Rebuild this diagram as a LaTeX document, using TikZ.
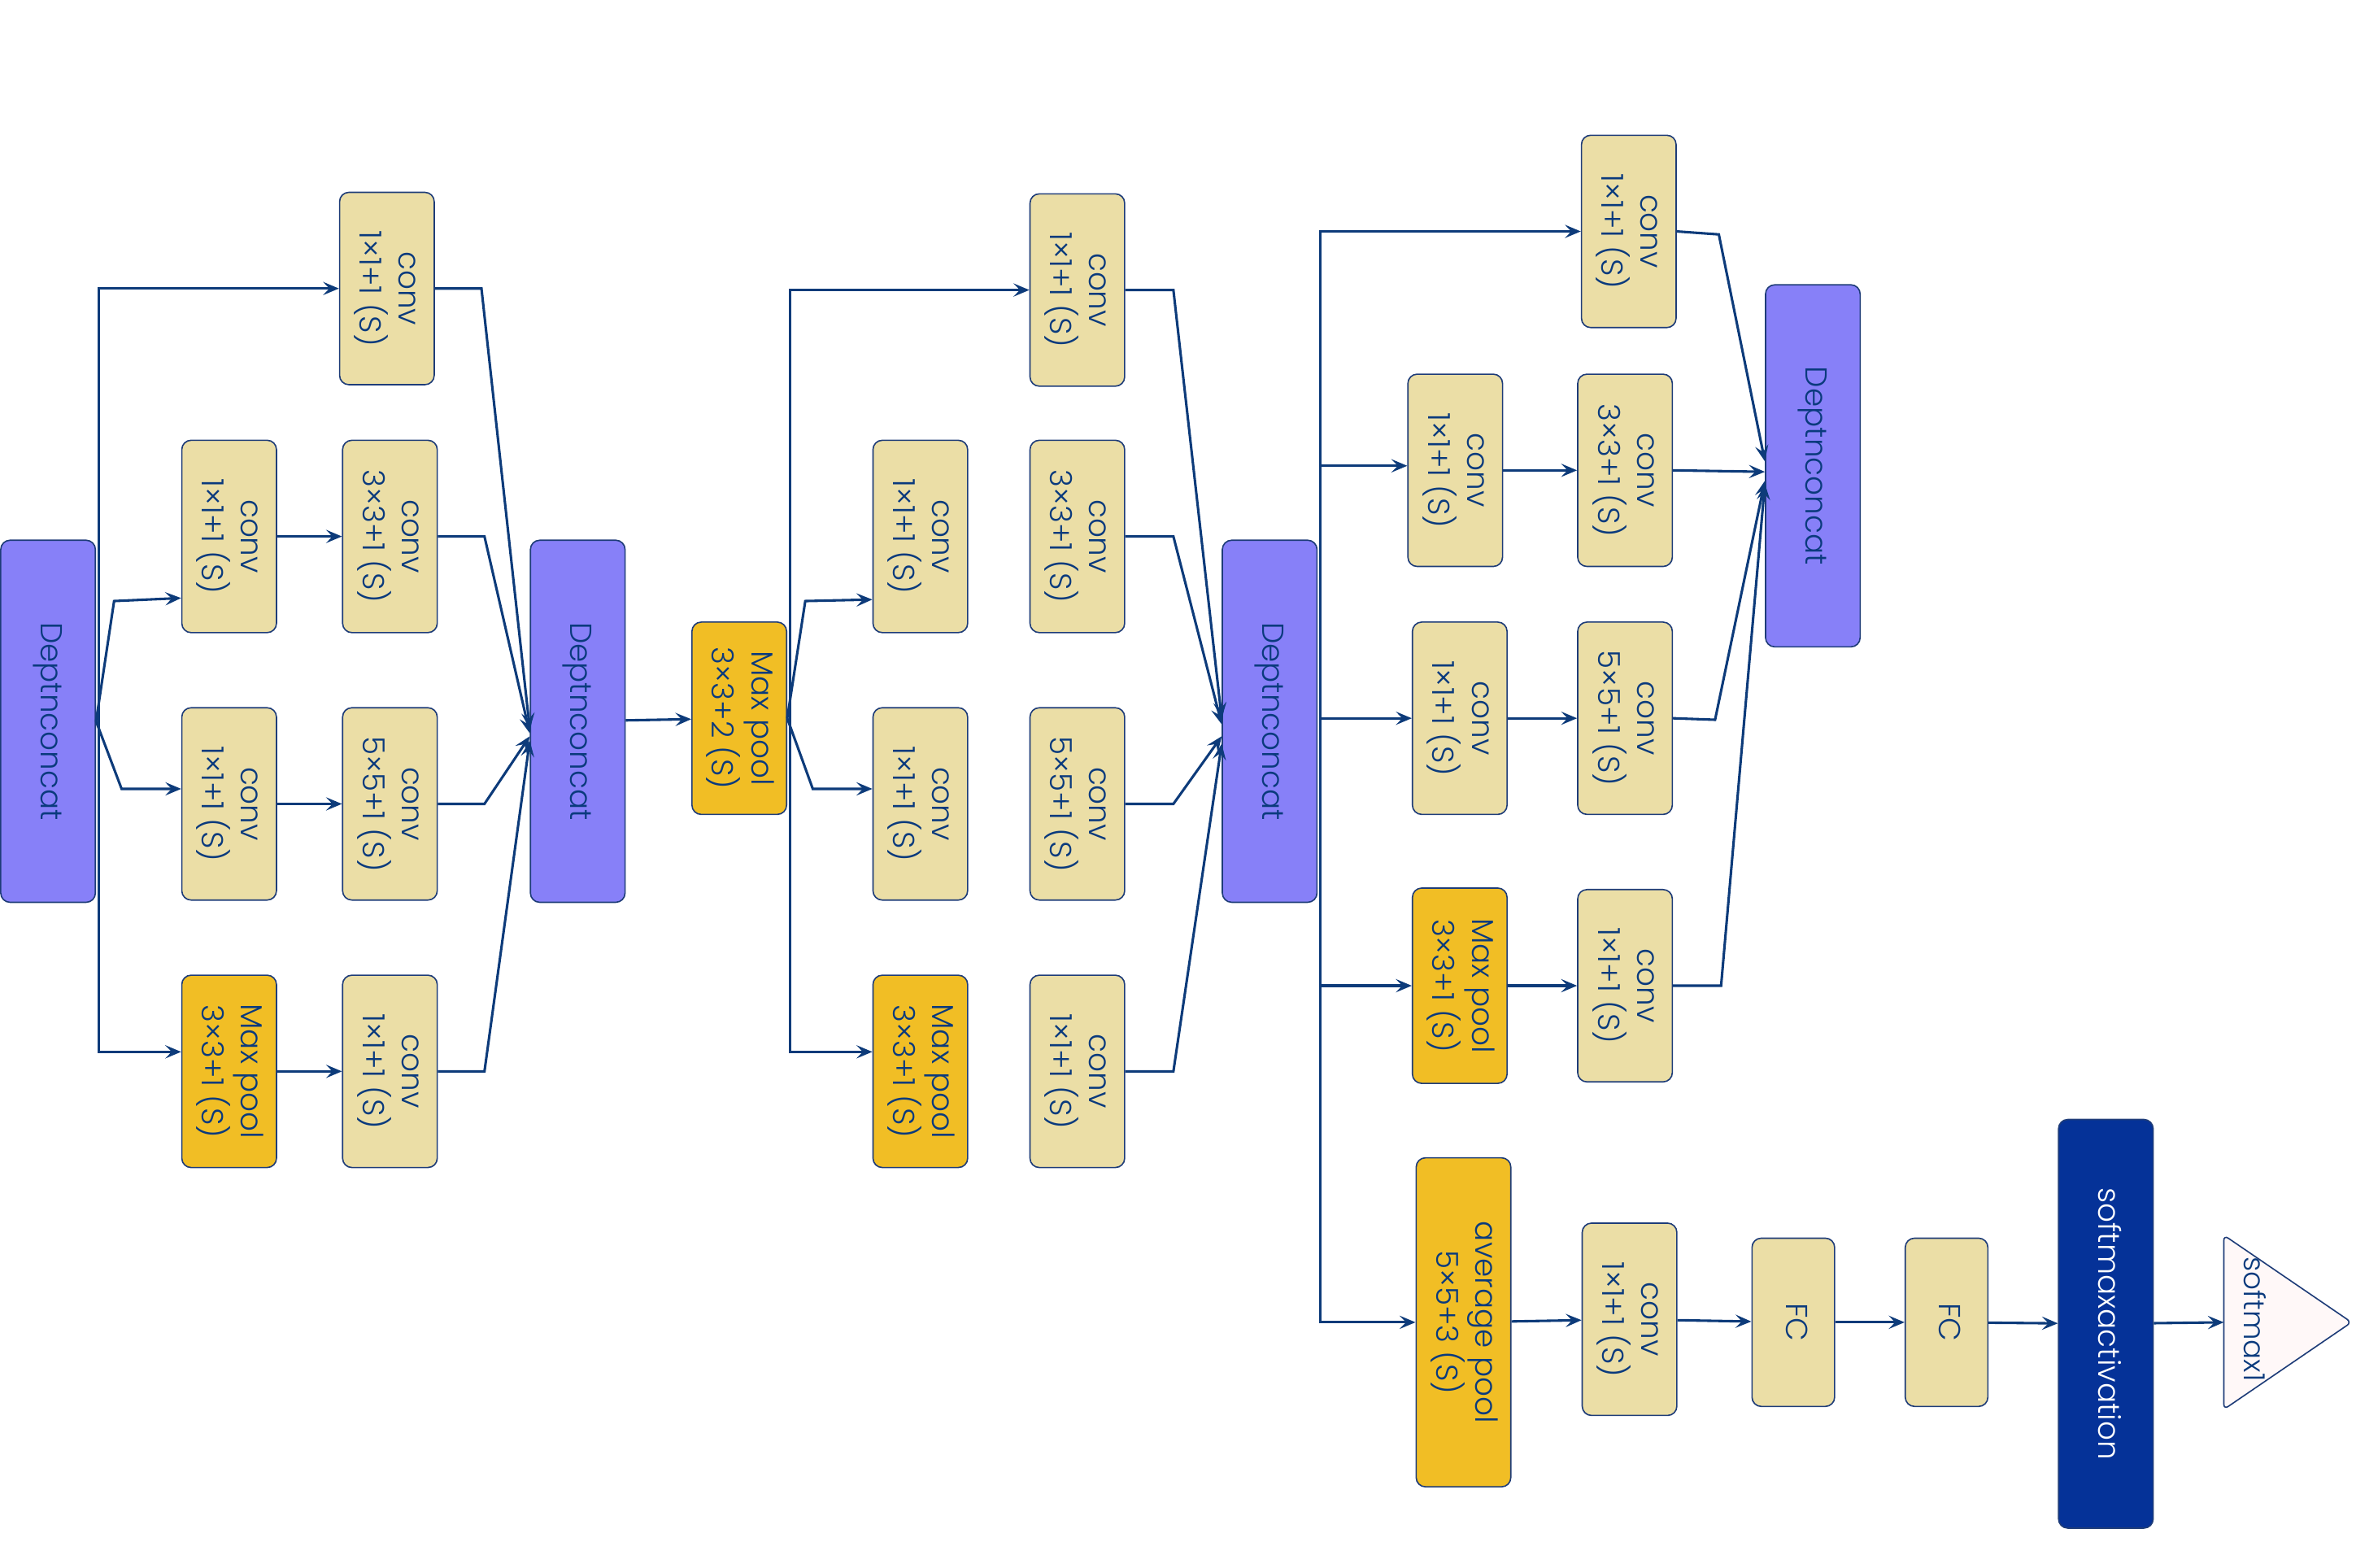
\documentclass[tikz,border=0pt]{standalone}
\usepackage{fontspec}
\setmainfont{Poppins}[UprightFont=* Light]
\usepackage{graphicx}
\usetikzlibrary{arrows.meta,calc}

\definecolor{linecol}{RGB}{13,59,122}
\definecolor{txtcol}{RGB}{10,58,125}
\definecolor{boxline}{RGB}{30,60,120}
\definecolor{convfill}{RGB}{235,222,166}
\definecolor{poolfill}{RGB}{241,190,37}
\definecolor{catfill}{RGB}{135,128,248}
\definecolor{actfill}{RGB}{5,50,152}
\definecolor{trifill}{RGB}{255,248,248}

\newcommand{\vlab}[1]{\rotatebox{-90}{\begin{tabular}{@{}c@{}}#1\end{tabular}}}

\tikzset{
	box/.style={draw=boxline, line width=0.5pt, rounded corners=3.5pt, inner sep=0pt,
		minimum width=1.26cm, minimum height=2.56cm, text=txtcol,
		font=\fontsize{11.5}{13.8}\selectfont},
	convbox/.style={box, fill=convfill},
	poolbox/.style={box, fill=poolfill},
	catbox/.style={box, fill=catfill, minimum height=4.82cm},
	fcbox/.style={box, fill=convfill, minimum width=1.1cm, minimum height=2.24cm},
	actbox/.style={box, fill=actfill, text=white, minimum height=5.44cm},
	arr/.style={draw=linecol, line width=0.95pt, -{Stealth[length=6pt,width=5pt,inset=2.4pt]}},
	tri/.style={draw=boxline, line width=0.5pt, fill=trifill, rounded corners=2pt},
}

\begin{document}
\begin{tikzpicture}[x=0.02cm, y=-0.02cm]
	\useasboundingbox (0,0) rectangle (1568,1043.5);

	% first block
	\node[catbox] (cat1) at (32,480) {\vlab{Deptnconcat}};
	\node[convbox] (l1a) at (257.5,192) {\vlab{conv\\1×1+1 (S)}};
	\node[convbox] (l2a) at (152.5,357) {\vlab{conv\\1×1+1 (S)}};
	\node[convbox] (l2b) at (259.5,357) {\vlab{conv\\3×3+1 (S)}};
	\node[convbox] (l3a) at (152.5,535) {\vlab{conv\\1×1+1 (S)}};
	\node[convbox] (l3b) at (259.5,535) {\vlab{conv\\5×5+1 (S)}};
	\node[poolbox] (l4a) at (152.5,713) {\vlab{Max pool\\3×3+1 (S)}};
	\node[convbox] (l4b) at (259.5,713) {\vlab{conv\\1×1+1 (S)}};
	\node[catbox] (cat2) at (384.5,480) {\vlab{Deptnconcat}};

	\coordinate (t1) at ($(cat1.east)+(2,0)$);
	\draw[arr] (t1) |- (l1a.west);
	\draw[arr] (t1) |- ($(l4a.west)+(0,-13)$);
	\draw[arr] (cat1.east) -- ++(12,-80) -- ($(l2a.west)+(0,41)$);
	\draw[arr] (cat1.east) -- ++(17,45) -- ($(l3a.west)+(0,-10)$);
	\draw[arr] (l2a) -- (l2b);
	\draw[arr] (l3a) -- (l3b);
	\draw[arr] (l4a) -- (l4b);
	\draw[arr] (l1a.east) -- ++(31,0) -- ($(cat2.west)+(0,5)$);
	\draw[arr] (l2b.east) -- ++(31,0) -- ($(cat2.west)+(0,8)$);
	\draw[arr] (l3b.east) -- ++(31,0) -- ($(cat2.west)+(0,10)$);
	\draw[arr] (l4b.east) -- ++(31,0) -- ($(cat2.west)+(0,13)$);

	% second block
	\node[poolbox] (mp) at (492,478) {\vlab{Max pool\\3×3+2 (S)}};
	\node[convbox] (m1a) at (717,193) {\vlab{conv\\1×1+1 (S)}};
	\node[convbox] (m2a) at (612.5,357) {\vlab{conv\\1×1+1 (S)}};
	\node[convbox] (m2b) at (717,357) {\vlab{conv\\3×3+1 (S)}};
	\node[convbox] (m3a) at (612.5,535) {\vlab{conv\\1×1+1 (S)}};
	\node[convbox] (m3b) at (717,535) {\vlab{conv\\5×5+1 (S)}};
	\node[poolbox] (m4a) at (612.5,713) {\vlab{Max pool\\3×3+1 (S)}};
	\node[convbox] (m4b) at (717,713) {\vlab{conv\\1×1+1 (S)}};
	\node[catbox] (cat3) at (845,480) {\vlab{Deptnconcat}};

	\draw[arr] (cat2) -- (mp);
	\coordinate (t2) at ($(mp.east)+(2,0)$);
	\draw[arr] (t2) |- (m1a.west);
	\draw[arr] (t2) |- ($(m4a.west)+(0,-13)$);
	\draw[arr] (mp.east) -- ++(12,-78) -- ($(m2a.west)+(0,42)$);
	\draw[arr] (mp.east) -- ++(17,47) -- ($(m3a.west)+(0,-10)$);
	\draw[arr] (m1a.east) -- ++(32,0) -- ($(cat3.west)+(0,-2)$);
	\draw[arr] (m2b.east) -- ++(32,0) -- ($(cat3.west)+(0,2)$);
	\draw[arr] (m3b.east) -- ++(32,0) -- ($(cat3.west)+(0,10)$);
	\draw[arr] (m4b.east) -- ++(32,0) -- ($(cat3.west)+(0,15)$);

	% third block
	\node[convbox] (r1a) at (1084,154) {\vlab{conv\\1×1+1 (S)}};
	\node[convbox] (r2a) at (968.5,313) {\vlab{conv\\1×1+1 (S)}};
	\node[convbox] (r2b) at (1081.5,313) {\vlab{conv\\3×3+1 (S)}};
	\node[convbox] (r3a) at (971.5,478) {\vlab{conv\\1×1+1 (S)}};
	\node[convbox] (r3b) at (1081.5,478) {\vlab{conv\\5×5+1 (S)}};
	\node[poolbox, minimum height=2.6cm] (r4a) at (971.5,656) {\vlab{Max pool\\3×3+1 (S)}};
	\node[convbox] (r4b) at (1081.5,656) {\vlab{conv\\1×1+1 (S)}};
	\node[catbox] (cat4) at (1206.5,310) {\vlab{Deptnconcat}};

	\coordinate (t3) at ($(cat3.east)+(2,0)$);
	\draw[arr] (t3) |- (r1a.west);
	\draw[arr] (t3) |- ($(r2a.west)+(0,-3)$);
	\draw[arr] (t3) |- (r3a.west);
	\draw[arr] (t3) |- (r4a.west);
	\draw[arr] (r2a) -- (r2b);
	\draw[arr] (r3a) -- (r3b);
	\draw[arr] (r4a) -- (r4b);
	\draw[arr] (r1a.east) -- ++(28,2) -- ($(cat4.west)+(0,-3)$);
	\draw[arr] (r2b.east) -- ($(cat4.west)+(0,4)$);
	\draw[arr] (r3b.east) -- ++(28,1) -- ($(cat4.west)+(0,10)$);
	\draw[arr] (r4b.east) -- ++(32,0) -- ($(cat4.west)+(0,12)$);

	% side branch
	\node[poolbox, minimum height=4.38cm] (r5a) at (974,880) {\vlab{average pool\\5×5+3 (S)}};
	\node[convbox] (r5b) at (1084.5,878) {\vlab{conv\\1×1+1 (S)}};
	\node[fcbox] (fc1) at (1193.5,880) {\vlab{FC}};
	\node[fcbox] (fc2) at (1295.5,880) {\vlab{FC}};
	\node[actbox] (act) at (1401.5,881) {\vlab{softmaxactivation}};
	\coordinate (sm) at (1480,880);
	\draw[tri] (sm) ++(0,-58) -- ++(85,58) -- ++(-85,58) -- cycle;
	\node[text=txtcol, font=\fontsize{11}{13}\selectfont] (smtxt) at (1501,878) {\rotatebox{-90}{softmax1}};

	\draw[arr] (t3) |- (r5a.west);
	\draw[arr] (r5a) -- (r5b);
	\draw[arr] (r5b) -- (fc1);
	\draw[arr] (fc1) -- (fc2);
	\draw[arr] (fc2) -- (act);
	\draw[arr] (act) -- (sm);
\end{tikzpicture}
\end{document}
